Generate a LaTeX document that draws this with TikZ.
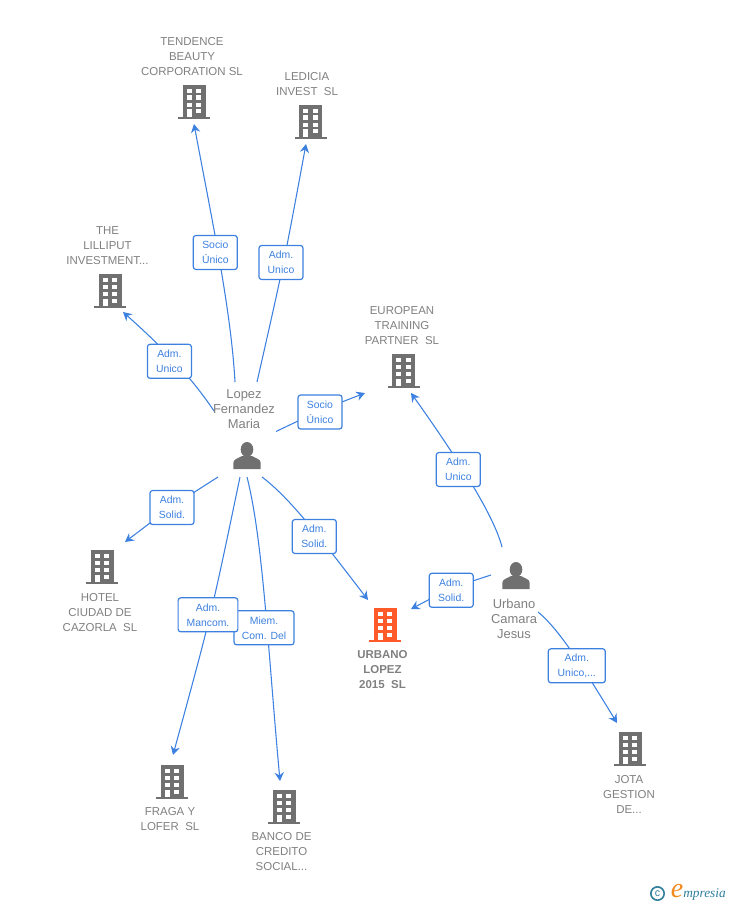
\documentclass[tikz,border=0pt]{standalone}
\usepackage{fontspec}
\setmainfont{Liberation Sans}
\newfontfamily\logofont{Liberation Serif}
\usetikzlibrary{arrows.meta,backgrounds}
\definecolor{edgeblue}{HTML}{3C80E0}
\definecolor{txtgray}{HTML}{808080}
\definecolor{icongray}{HTML}{707070}
\definecolor{mainorange}{HTML}{FF5A2A}
\definecolor{logoteal}{HTML}{2F7F9A}
\definecolor{logoorange}{HTML}{F08A1E}
\tikzset{
  x=0.75pt,y=-0.75pt,
  pics/bldg/.style={code={
    \fill[#1] (-11.5,-17) rectangle (11.5,15.5);
    \fill[#1] (-16,15) rectangle (16,17);
    \foreach \yy in {-13,-6.5,1} {
      \fill[white] (-7.5,\yy) rectangle (-2.5,\yy+4.4);
      \fill[white] (2,\yy) rectangle (7,\yy+4.4);
    }
    \fill[white] (-7.5,7.5) rectangle (-2.5,15);
    \fill[white] (2,7.5) rectangle (7,11.5);
  }},
  pics/persona/.style={code={
    \fill[icongray] (0,-6.5) ellipse (6.3 and 7.5);
    \fill[icongray] (-13.7,13) -- (-13.7,7) .. controls (-13.7,3) and (-9,2.5) .. (-5,0)
      -- (5,0) .. controls (9,2.5) and (13.7,3) .. (13.7,7) -- (13.7,13) -- cycle;
  }},
  lbl/.style={font=\fontsize{8.6pt}{11.25pt}\selectfont,text=txtgray,align=center,inner sep=0pt},
  boldlbl/.style={lbl,font=\fontsize{8.6pt}{11.25pt}\selectfont\bfseries},
  persl/.style={font=\fontsize{9.7pt}{11.25pt}\selectfont,text=txtgray,align=center,inner sep=0pt},
  rel/.style={draw=edgeblue,fill=white,rounded corners=2pt,line width=0.9pt,text=edgeblue,
    font=\fontsize{7.8pt}{11.25pt}\selectfont,align=center,inner sep=0pt,minimum width=33pt,minimum height=25.5pt},
  edge/.style={draw=edgeblue,line width=0.8pt},
  arr/.style={edge,-{Stealth[length=6.5pt,width=7pt,inset=2.2pt]}},
}
\begin{document}
\begin{tikzpicture}
\useasboundingbox (0,0) rectangle (728,905);

% free ends of the connectors
\coordinate (lopezN1) at (235,382);
\coordinate (lopezN2) at (257,382);
\coordinate (lopezW) at (214,411);
\coordinate (lopezE) at (276,431.5);
\coordinate (lopezSW) at (218,477);
\coordinate (lopezS1) at (240,477);
\coordinate (lopezS2) at (247,477);
\coordinate (lopezSE) at (262,477);
\coordinate (camW) at (491,575);
\coordinate (camN) at (502,547);
\coordinate (camSE) at (538,612);
\coordinate (tTend) at (194,124);
\coordinate (tLedi) at (306,144);
\coordinate (tLill) at (123,312);
\coordinate (tEuro) at (365,393);
\coordinate (tHotel) at (125,542);
\coordinate (tFraga) at (173,755);
\coordinate (tBanco) at (280,781);
\coordinate (tUrb1) at (368,600);
\coordinate (tUrb2) at (411,609);
\coordinate (tEuro2) at (411,393);
\coordinate (tJota) at (617,723);

% organisations
\pic at (194,102) {bldg=icongray};
\pic at (310.5,122) {bldg=icongray};
\pic at (110,291) {bldg=icongray};
\pic at (403.5,371) {bldg=icongray};
\pic at (102,567) {bldg=icongray};
\pic at (385,625) {bldg=mainorange};
\pic at (172,782) {bldg=icongray};
\pic at (284,807) {bldg=icongray};
\pic at (630,749) {bldg=icongray};
% people
\pic at (247,456) {persona};
\pic at (516,576) {persona};

% labels
\node[lbl] (nTend) at (192,57) {TENDENCE\\BEAUTY\\CORPORATION SL};
\node[lbl] (nLedi) at (307,84.5) {LEDICIA\\INVEST\ \ SL};
\node[lbl] (nLill) at (107.5,246) {THE\\LILLIPUT\\INVESTMENT...};
\node[lbl] (nEuro) at (402,326) {EUROPEAN\\TRAINING\\PARTNER\ \ SL};
\node[lbl] (nHotel) at (100,613) {HOTEL\\CIUDAD DE\\CAZORLA\ \ SL};
\node[boldlbl] (nUrb) at (382.5,670) {URBANO\\LOPEZ\\2015\ \ SL};
\node[lbl] (nFraga) at (170,819.5) {FRAGA Y\\LOFER\ \ SL};
\node[lbl] (nBanco) at (281.5,852) {BANCO DE\\CREDITO\\SOCIAL...};
\node[lbl] (nJota) at (629,794) {JOTA\\GESTION\\DE...};
\node[persl] (nLopez) at (244,409) {Lopez\\Fernandez\\Maria};
\node[persl] (nCam) at (514,619) {Urbano\\Camara\\Jesus};

% relation boxes
\node[rel] (rTend) at (215.3,252.5) {Socio\\Único};
\node[rel] (rLedi) at (281,262.5) {Adm.\\Unico};
\node[rel] (rLill) at (169.4,361.3) {Adm.\\Unico};
\node[rel] (rEuro) at (320,412) {Socio\\Único};
\node[rel] (rHotel) at (172,507.5) {Adm.\\Solid.};
\node[rel] (rUrb1) at (314.3,536.5) {Adm.\\Solid.};
\node[rel,minimum width=45pt] (rBanco) at (264,627.8) {Miem.\\Com. Del};
\node[rel,minimum width=44.8pt] (rFraga) at (208,614.8) {Adm.\\Mancom.};
\node[rel] (rUrb2) at (451.2,590.3) {Adm.\\Solid.};
\node[rel] (rEuro2) at (458.3,469.5) {Adm.\\Unico};
\node[rel,minimum width=42.8pt] (rJota) at (576.8,665.8) {Adm.\\Unico,...};

% connectors, running behind their boxes
\begin{scope}[on background layer]
\draw[arr] (lopezN1) .. controls (231,310) and (212,220) .. (tTend);
\draw[arr] (lopezN2) .. controls (284,263) .. (tLedi);
\draw[arr] (lopezW) .. controls (190,375) and (160,345) .. (tLill);
\draw[arr] (lopezE) .. controls (320,410.5) .. (tEuro);
\draw[arr] (lopezSW) .. controls (171,507) .. (tHotel);
\draw[arr] (lopezS1) .. controls (211,616) .. (tFraga);
\draw[arr] (lopezS2) .. controls (263,540) and (268,650) .. (tBanco);
\draw[arr] (lopezSE) .. controls (290,498) and (322,540) .. (tUrb1);
\draw[arr] (camW) .. controls (451,588) .. (tUrb2);
\draw[arr] (camN) .. controls (494,516) and (460,462) .. (tEuro2);
\draw[arr] (camSE) .. controls (558,628) and (583,667) .. (tJota);
\end{scope}

% logo
\node[circle,draw=logoteal,line width=1.2pt,minimum size=10pt,inner sep=0pt,text=logoteal,font=\fontsize{8pt}{8pt}\selectfont] (logoC) at (657.5,893.5) {c};
\node[inner sep=0pt,text=logoorange,font=\logofont\itshape\fontsize{21pt}{21pt}\selectfont] (logoE) at (677,891) {e};
\node[inner sep=0pt,anchor=west,text=logoteal,font=\logofont\itshape\fontsize{10pt}{10pt}\selectfont] (logoT) at (683,894) {mpresia};
\end{tikzpicture}
\end{document}
